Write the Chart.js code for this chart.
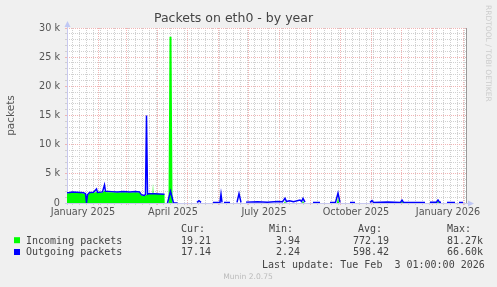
<!DOCTYPE html>
<html>
<head>
<meta charset="utf-8">
<script src="https://cdn.jsdelivr.net/npm/chart.js@4"></script>
<style>
  html, body { margin: 0; padding: 0; background: #f0f0f0; }
  #chart { display: block; }
</style>
</head>
<body>
<canvas id="chart" width="497" height="287"></canvas>
<script>
// days counted from 1 January 2025
const inDays = [-0.5, 2, 5, 9, 13, 16, 18, 19, 20, 22, 26, 29, 31, 35, 37, 39, 44, 50, 56, 62, 68, 72, 74, 77, 79, 81, 85, 85.5, 86, 92, 97, 97.2,
  101, 102, 104, 105, 216.5, 217.5, 218.5, 234.5, 235.5, 236.5, 269.5, 270.5, 271.5, 333.5, 334.5, 335.5, 369.5, 370.5, 371.5, 395.5];
const inValues = [1650, 1700, 1800, 1750, 1700, 1650, 1500, 300, 1300, 1700, 1750, 1900, 1750, 1800, 2100, 1850, 1850, 1800, 1850, 1800, 1850, 1800, 1300, 1200, 1400, 1600, 1600, 3400, 1600, 1550, 1500, 0,
  0, 28500, 28500, 0, 0, 300, 0, 0, 400, 0, 0, 1000, 0, 0, 400, 0, 0, 300, 0, 0];

const outDays = [-0.5, 2, 5, 9, 13, 16, 18, 19, 20, 22, 26, 29, 30, 35, 37, 38, 44, 50, 56, 62, 68, 72, 74, 77, 78, 79, 80, 81, 87, 92, 97, 98,
  100, 103, 106, 110, 110.5, 111.5, 112, 112.5, 129.5, 131.5, 133.5, 134, 145.5, 152.5, 153.5, 154.5, 155, 156.5, 162.5, 163,
  169.5, 171.5, 173.5, 174, 178.5, 190, 200, 210, 215, 217.5, 219, 222, 226, 232.5, 234, 235.5, 237.5, 238,
  245.5, 252.5, 253, 262.5, 268, 270.5, 272.5, 273, 282.5, 287.5, 288, 302.5, 304.5, 306, 320, 333, 334.5, 336, 357.5, 358,
  362.5, 369, 370.5, 372, 373.5, 374, 379.5, 387.5, 388, 391.5, 395.5];
const outValues = [1750, 1800, 1900, 1850, 1800, 1750, 1600, 50, 1400, 1800, 1850, 2400, 1800, 1900, 3100, 2000, 1950, 1900, 1950, 1900, 1950, 1900, 1400, 1300, 1500, 15000, 1500, 1600, 1600, 1550, 1500, null,
  0, 2000, 0, 0, null, 50, 50, null, 100, 400, 100, null, 100, 100, 1500, 100, null, 100, 100, null,
  100, 1600, 100, null, 150, 200, 150, 250, 200, 800, 250, 400, 200, 500, 250, 800, 150, null,
  100, 100, null, 100, 100, 1700, 100, null, 100, 100, null, 100, 400, 100, 150, 100, 500, 100, 100, null,
  150, 150, 500, 150, 150, null, 100, 100, null, 100, 100];

const monthStarts = [0, 31, 59, 90, 120, 151, 181, 212, 243, 273, 304, 334, 365, 396];
const weekStarts = [5, 12, 19, 26, 33, 40, 47, 54, 61, 68, 75, 82, 89, 96, 103, 110, 117, 124, 131, 138, 145, 152, 159, 166, 173, 180,
  187, 194, 201, 208, 215, 222, 229, 236, 243, 250, 257, 264, 271, 278, 285, 292, 299, 306, 313, 320, 327, 334, 341, 348, 355, 362,
  369, 376, 383, 390, 397];
const quarterDays = [0, 90, 181, 273, 365];
const quarterLabels = ['January 2025', 'April 2025', 'July 2025', 'October 2025', 'January 2026'];

const seriesNames = ['Incoming packets', 'Outgoing packets'];
const seriesColors = ['#00ff00', '#0000ff'];
const curValues = ['19.21', '17.14'];
const minValues = ['3.94', '2.24'];
const avgValues = ['772.19', '598.42'];
const maxValues = ['81.27k', '66.60k'];

const gridDays = [...new Set([...monthStarts, ...weekStarts])].sort((a, b) => a - b);
const yGrid = [];
for (let v = 0; v <= 30000; v += 1000) yGrid.push(v);

const RED = '#f0b4b4';
const GRAY = '#d0d0d0';

const munin = {
  id: 'munin',
  beforeDraw(chart) {
    const { ctx, chartArea: a } = chart;
    ctx.save();
    ctx.fillStyle = '#ffffff';
    ctx.fillRect(a.left, a.top, a.right - a.left, a.bottom - a.top);
    ctx.restore();
  },
  beforeDatasetsDraw(chart) {
    const { ctx, chartArea: a } = chart;
    ctx.save();
    ctx.strokeStyle = '#c8c8ee';
    ctx.lineWidth = 1;
    ctx.beginPath();
    ctx.moveTo(a.left + 0.5, a.bottom + 2);
    ctx.lineTo(a.left + 0.5, a.top - 4);
    ctx.moveTo(a.left - 2, a.bottom + 0.5);
    ctx.lineTo(a.right + 3, a.bottom + 0.5);
    ctx.stroke();
    ctx.fillStyle = '#c0c8f4';
    ctx.beginPath();
    ctx.moveTo(a.left - 2.5, a.top - 1);
    ctx.lineTo(a.left + 3.5, a.top - 1);
    ctx.lineTo(a.left + 0.5, a.top - 7);
    ctx.closePath();
    ctx.fill();
    ctx.beginPath();
    ctx.moveTo(a.right + 1, a.bottom - 2.5);
    ctx.lineTo(a.right + 1, a.bottom + 3.5);
    ctx.lineTo(a.right + 7, a.bottom + 0.5);
    ctx.closePath();
    ctx.fill();
    ctx.strokeStyle = '#999999';
    ctx.beginPath();
    ctx.moveTo(a.right - 0.5, a.top);
    ctx.lineTo(a.right - 0.5, a.bottom);
    ctx.stroke();
    ctx.restore();
  },
  afterDraw(chart) {
    const { ctx } = chart;
    const x = chart.scales.x;
    ctx.save();
    ctx.fillStyle = '#555';
    ctx.font = '9.7px "DejaVu Sans"';
    ctx.textAlign = 'center';
    ctx.textBaseline = 'alphabetic';
    quarterDays.forEach((d, i) => {
      ctx.fillText(quarterLabels[i], x.getPixelForValue(d + 15.5), 214.5);
    });

    ctx.font = '10px "DejaVu Sans Mono"';
    ctx.textAlign = 'left';
    ctx.fillStyle = '#444';
    ctx.fillText('Cur:', 181, 231.5);
    ctx.fillText('Min:', 269, 231.5);
    ctx.fillText('Avg:', 358, 231.5);
    ctx.fillText('Max:', 447, 231.5);
    const rowY = [243.5, 255.3];
    seriesNames.forEach((name, i) => {
      ctx.fillStyle = seriesColors[i];
      ctx.fillRect(14, rowY[i] - 6.3, 6, 6);
      ctx.fillStyle = '#444';
      ctx.textAlign = 'left';
      ctx.fillText(name, 26, rowY[i]);
      ctx.textAlign = 'right';
      ctx.fillText(curValues[i], 211, rowY[i]);
      ctx.fillText(minValues[i], 300, rowY[i]);
      ctx.fillText(avgValues[i], 389, rowY[i]);
      ctx.fillText(maxValues[i], 483, rowY[i]);
    });
    ctx.textAlign = 'left';
    ctx.fillText('Last update: Tue Feb  3 01:00:00 2026', 262, 267.5);

    ctx.fillStyle = '#bbbbbb';
    ctx.font = '7.6px "DejaVu Sans"';
    ctx.textAlign = 'center';
    ctx.fillText('Munin 2.0.75', 248, 279);

    ctx.fillStyle = '#cccccc';
    ctx.font = '7.5px "DejaVu Sans"';
    ctx.translate(488, 5);
    ctx.rotate(Math.PI / 2);
    ctx.textAlign = 'left';
    ctx.textBaseline = 'middle';
    ctx.fillText('RRDTOOL / TOBI OETIKER', 0, 0);
    ctx.restore();
  }
};

new Chart(document.getElementById('chart'), {
  type: 'line',
  data: {
    datasets: [
      {
        label: seriesNames[0],
        data: inDays.map((d, i) => ({ x: d, y: inValues[i] })),
        backgroundColor: seriesColors[0],
        borderWidth: 0,
        fill: 'origin',
        pointRadius: 0,
        order: 1
      },
      {
        label: seriesNames[1],
        data: outDays.map((d, i) => ({ x: d, y: outValues[i] })),
        borderColor: seriesColors[1],
        borderWidth: 1.5,
        fill: false,
        pointRadius: 0,
        order: 0
      }
    ]
  },
  options: {
    responsive: false,
    animation: false,
    events: [],
    layout: { padding: { top: 0, right: 30, bottom: 0, left: 0 } },
    plugins: {
      legend: { display: false },
      tooltip: { enabled: false },
      title: {
        display: true,
        text: 'Packets on eth0 - by year',
        color: '#444',
        font: { family: 'DejaVu Sans', size: 12.5, weight: 'normal' },
        padding: { top: 11, bottom: 2 }
      }
    },
    scales: {
      x: {
        type: 'linear',
        min: -0.5,
        max: 399.5,
        afterFit: s => { s.height = 84; },
        afterBuildTicks: s => { s.ticks = gridDays.map(v => ({ value: v })); },
        ticks: { display: false },
        grid: {
          color: c => monthStarts.includes(c.tick.value) ? RED : GRAY,
          drawTicks: true,
          tickLength: 2
        },
        border: { display: false, dash: [1, 1] }
      },
      y: {
        min: 0,
        max: 30000,
        afterFit: s => { s.width = 67; },
        afterBuildTicks: s => { s.ticks = yGrid.map(v => ({ value: v })); },
        ticks: {
          autoSkip: false,
          padding: 5,
          color: '#555',
          font: { family: 'DejaVu Sans', size: 9.7 },
          callback: v => v % 5000 ? '' : (v === 0 ? '0' : (v / 1000) + ' k')
        },
        grid: {
          color: c => c.tick.value % 5000 ? GRAY : RED,
          drawTicks: true,
          tickLength: 2
        },
        border: { display: false, dash: [1, 1] },
        title: {
          display: true,
          text: 'packets',
          color: '#555',
          font: { family: 'DejaVu Sans', size: 10.5 },
          padding: { top: 5, bottom: 0 }
        }
      }
    }
  },
  plugins: [munin]
});
</script>
</body>
</html>
